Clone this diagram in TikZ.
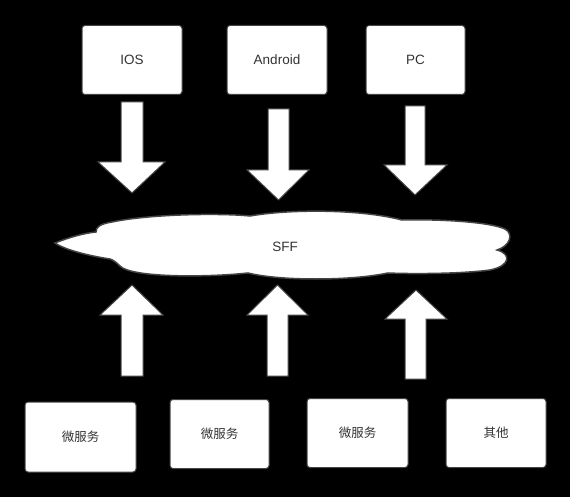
\documentclass[tikz,border=0pt]{standalone}
\usepackage{fontspec}
\setmainfont{Liberation Sans}
\newfontfamily\cjk{Noto Sans CJK SC}
\definecolor{txt}{HTML}{333333}
\definecolor{edge}{HTML}{444444}
\begin{document}
\begin{tikzpicture}[x=1pt,y=-1pt,
  box/.style={draw=edge,line width=1pt,fill=white,rounded corners=3pt,
    minimum width=#1,minimum height=69pt,inner sep=0pt,text=txt,
    font=\fontsize{13.5}{15}\selectfont},
  box/.default=100pt,
  cjkt/.style={font=\cjk\fontsize{12.5}{14}\selectfont},
  blockarr/.style={draw=edge,line width=1pt,fill=white,line join=miter},
  cloudsh/.style={draw=edge,line width=1.5pt,fill=white}]
\useasboundingbox[fill=black] (0,0) rectangle (570,497);
% top boxes
\node[box] (ios) at (132,60) {IOS};
\node[box] (android) at (277,60) {Android};
\node[box=99pt] (pc) at (415.5,60) {PC};
% bottom boxes
\node[box=111pt,minimum height=70pt,cjkt] (ms1) at (80.5,437) {微服务};
\node[box=99pt,cjkt] (ms2) at (219.5,434) {微服务};
\node[box=101pt,cjkt] (ms3) at (357.5,433) {微服务};
\node[box,cjkt] (other) at (496,433) {其他};
% down arrows
\draw[blockarr] (121,102) -- (143,102) -- (143,162) -- (165,162) -- (132,193) -- (98,162) -- (121,162) -- cycle;
\draw[blockarr] (268,109) -- (289,109) -- (289,170) -- (309,170) -- (278.5,200) -- (247,170) -- (268,170) -- cycle;
\draw[blockarr] (405,106) -- (425,106) -- (425,165) -- (447,165) -- (415,195) -- (384,165) -- (405,165) -- cycle;
% cloud
\draw[cloudsh] (55,243)
  .. controls (70,237) and (85,233) .. (96,232)
  .. controls (96,227) and (100,224) .. (112,222)
  .. controls (150,214) and (220,213) .. (250,216)
  .. controls (290,209) and (360,209) .. (402,220)
  .. controls (440,219) and (490,222) .. (505,229)
  .. controls (514,234) and (510,246) .. (497,250)
  .. controls (512,254) and (510,266) .. (490,270)
  .. controls (460,274) and (410,274) .. (388,273)
  .. controls (350,281) and (280,281) .. (248,273)
  .. controls (200,278) and (130,277) .. (120,266)
  .. controls (116,262) and (113,260) .. (110,259)
  .. controls (90,256) and (65,250) .. (55,243) -- cycle;
\node[text=txt,font=\fontsize{13.5}{15}\selectfont] (sff) at (285,247) {SFF};
% up arrows
\draw[blockarr] (121,376) -- (143,376) -- (143,315) -- (163,315) -- (132,285) -- (100,315) -- (121,315) -- cycle;
\draw[blockarr] (267,376) -- (288,376) -- (288,315) -- (308,315) -- (277.5,285) -- (247,315) -- (267,315) -- cycle;
\draw[blockarr] (405,379) -- (426,379) -- (426,319) -- (447,319) -- (416,290) -- (385,319) -- (405,319) -- cycle;
\end{tikzpicture}
\end{document}
